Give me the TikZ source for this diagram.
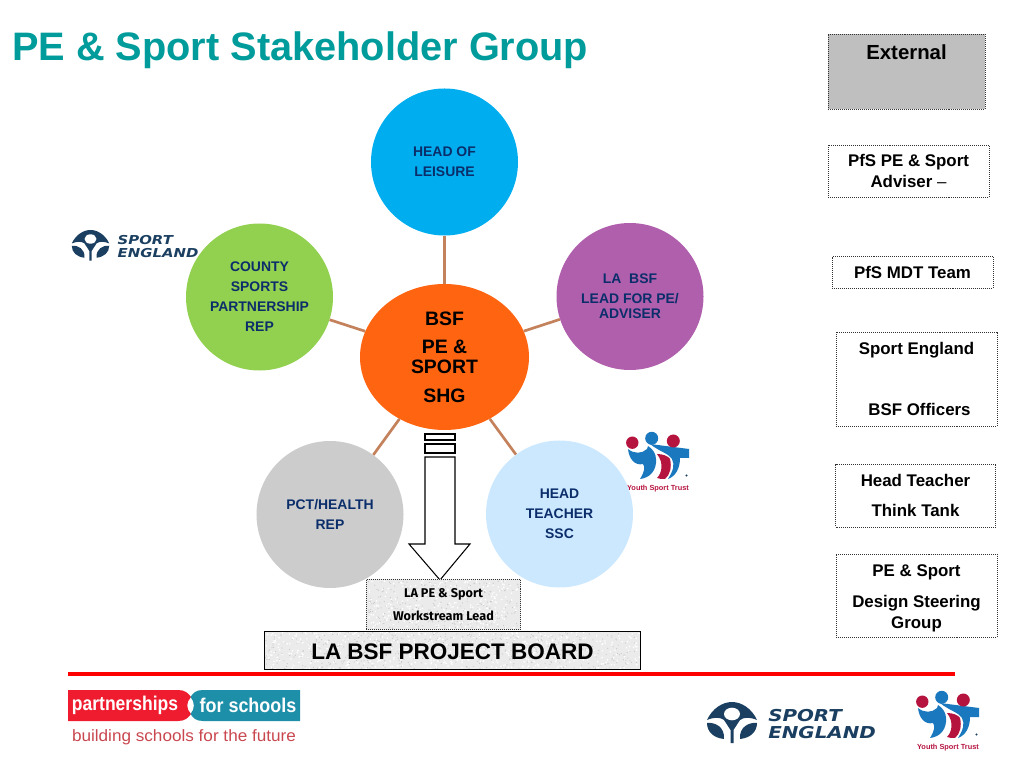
\documentclass[tikz,border=0pt]{standalone}
\usepackage{fontspec}
\setmainfont{Liberation Sans}
\newfontfamily\leadfont{Fira Sans}
\newfontfamily\logofont{DejaVu Sans}
\usetikzlibrary{shapes.geometric}
\definecolor{titleteal}{HTML}{009B9B}
\definecolor{labelnavy}{HTML}{0B2E6B}
\definecolor{spokebrown}{HTML}{C4825C}
\definecolor{logonavy}{HTML}{1B3F60}
\definecolor{logocrimson}{HTML}{B5143F}
\definecolor{logoblue}{HTML}{1A78BE}
\definecolor{pfsred}{HTML}{EE1C2E}
\definecolor{pfsteal}{HTML}{1E8FA8}
\definecolor{pfstag}{HTML}{C9474F}
\definecolor{hubfill}{HTML}{FF6411}
\definecolor{leisurefill}{HTML}{00AEEF}
\definecolor{countyfill}{HTML}{92D050}
\definecolor{leadfill}{HTML}{B05FAC}
\definecolor{healthfill}{HTML}{CCCCCC}
\definecolor{teacherfill}{HTML}{CCE8FF}
\tikzset{
  member/.style={circle,minimum size=4.41cm,inner sep=0pt,text=labelnavy,align=center,font=\fontsize{11.9}{17}\selectfont\bfseries},
  spoke/.style={draw=spokebrown,line width=2.3pt},
  sidebox/.style={draw=black!80,densely dotted,line width=0.7pt,align=center,inner sep=0pt,font=\fontsize{14.4}{17.5}\selectfont\bfseries},
  stonefill/.style n args={3}{fill=black!8,path picture={
    \pgfmathsetseed{#3}
    \foreach \i in {1,...,#3} {
      \fill[white] ([shift={(rand*#1,rand*#2)}]path picture bounding box.center) circle (0.9);
      \fill[black!22] ([shift={(rand*#1,rand*#2)}]path picture bounding box.center) circle (0.6);
    }}},
  sportlogo/.pic={
    \fill[logonavy] (-25,-4) .. controls (-20,-15) and (-10,-22) .. (0,-22) .. controls (10,-22) and (20,-15) .. (25,-4) .. controls (18,-7) and (12,-7) .. (8,-4) -- (1.5,6) -- (1.5,19) -- (-1.5,19) -- (-1.5,6) -- (-8,-4) .. controls (-12,-7) and (-18,-7) .. (-25,-4) -- cycle;
    \fill[white] (0,-10) ellipse (8 and 6.3);
    \fill[logonavy] (-25,-1) .. controls (-17,-2) and (-7,3) .. (-8,15) .. controls (-18,14) and (-25,8) .. (-25,-1) -- cycle;
    \fill[logonavy] (25,-1) .. controls (17,-2) and (7,3) .. (8,15) .. controls (18,14) and (25,8) .. (25,-1) -- cycle;
    \node[text=logonavy,font=\logofont\fontsize{14}{15.2}\selectfont\bfseries\itshape,align=left,inner sep=0pt,anchor=west,xscale=1.21,transform shape] at (36,0) {SPORT\\ENGLAND};
  },
  trustlogo/.pic={
    \fill[logoblue] (918,708) .. controls (924,713) and (932,713) .. (937,708) -- (938,705) .. controls (943,708) and (946,713) .. (946,718) .. controls (947,729) and (940,737) .. (930,738) .. controls (935,730) and (935,726) .. (933,723) .. controls (925,725) and (919,718) .. (918,708) -- cycle;
    \fill[logoblue] (940,703) -- (979,708) -- (979,717) -- (970,717) .. controls (970,727) and (966,735) .. (958,738) .. controls (963,730) and (965,724) .. (962,718) .. controls (958,712) and (950,711) .. (940,703) -- cycle;
    \fill[logocrimson] (947,713) .. controls (953,713) and (958,715) .. (960,718) .. controls (962,726) and (960,734) .. (955,738) .. controls (952,738) and (949,738) .. (947,737) .. controls (952,732) and (954,722) .. (947,713) -- cycle;
    \fill[logocrimson] (922.3,701.7) circle (6.2);
    \fill[logoblue] (941.7,697.3) circle (6.5);
    \fill[logocrimson] (963.3,700) circle (6.5);
    \fill[logonavy] (976.5,734.5) circle (1.1);
    \node[text=logocrimson,font=\fontsize{6.3}{8}\selectfont\bfseries,inner sep=0pt] at (948,747.5) {Youth Sport Trust};
  }
}
\begin{document}
\begin{tikzpicture}[x=0.03cm,y=-0.03cm]
  \useasboundingbox (0,0) rectangle (1024,768);
  \node[text=titleteal,anchor=west,inner sep=0pt,font=\fontsize{33.9}{36}\selectfont\bfseries] (title) at (12,50.5) {PE \& Sport Stakeholder Group};

  % logos sitting behind the circles
  \pic at (732,724) {sportlogo};
  \pic[scale=0.75,transform shape] at (90.5,246.5) {sportlogo};
  \pic[shift={(-290,-259)}] at (0,0) {trustlogo};
  \pic at (0,0) {trustlogo};

  % hub and members
  \node[ellipse,fill=hubfill,minimum width=5.07cm,minimum height=4.38cm,inner sep=0pt,align=center,font=\fontsize{16.6}{17}\selectfont\bfseries] (hub) at (444.5,357) {BSF\\[7pt]PE \&\\SPORT\\[7.5pt]SHG};
  \node[member,fill=leisurefill] (leisure) at (444.5,162) {HEAD OF\\LEISURE};
  \node[member,fill=countyfill] (county) at (259.5,297) {COUNTY\\SPORTS\\PARTNERSHIP\\REP};
  \node[member,fill=healthfill] (health) at (330,514.5) {PCT/HEALTH\\REP};
  \node[member,fill=teacherfill] (teacher) at (559.5,514) {HEAD\\TEACHER\\SSC};
  \node[member,fill=leadfill] (lead) at (630,296.5) {LA \ BSF\\LEAD FOR PE/\\[-4pt]ADVISER};
  \foreach \m in {leisure,county,health,teacher,lead} \draw[spoke] (hub) -- (\m);

  % arrow down to the board
  \draw[black,line width=0.9pt] (425,434) rectangle (455,440);
  \draw[black,line width=0.9pt] (425,444) rectangle (455,453);
  \draw[black,line width=0.9pt,fill=white] (425,457) -- (455,457) -- (455,544) -- (470,544) -- (440,580) -- (409,544) -- (425,544) -- cycle;

  \node[draw=black!80,densely dotted,line width=0.7pt,stonefill={75}{24}{260},minimum width=4.62cm,minimum height=1.5cm,inner sep=0pt,align=center,font=\leadfont\fontsize{10.8}{19.6}\selectfont\bfseries] (wslead) at (443.5,604.5) {LA PE \& Sport\\Workstream Lead};
  \node[draw=black,line width=0.7pt,stonefill={187}{19}{520},minimum width=11.28cm,minimum height=1.14cm,text height=0.51cm,text depth=0pt,inner sep=0pt,font=\fontsize{19.2}{22}\selectfont\bfseries] (board) at (452.5,650.5) {LA BSF PROJECT BOARD};

  % side column
  \node[sidebox,fill=black!25,minimum width=4.71cm,minimum height=2.25cm,text depth=1.15cm,font=\fontsize{17.4}{18}\selectfont\bfseries] (external) at (906.5,71.5) {External};
  \node[sidebox,minimum width=4.83cm,minimum height=1.56cm] (adviser) at (908.5,171) {PfS PE \& Sport\\Adviser {\mdseries --}};
  \node[sidebox,minimum width=4.83cm,minimum height=0.96cm] (mdt) at (912.5,272) {PfS MDT Team};
  \node[sidebox,minimum width=4.83cm,minimum height=2.82cm] (officers) at (916.5,379) {Sport England\\[8.5pt]\\[8.5pt]\hspace*{0.18cm}BSF Officers};
  \node[sidebox,minimum width=4.8cm,minimum height=1.89cm] (thinktank) at (915.5,495.5) {Head Teacher\\[8.5pt]Think Tank};
  \node[sidebox,minimum width=4.83cm,minimum height=2.49cm] (steering) at (916.5,595.5) {\rule{0pt}{14.8pt}PE \& Sport\\[9pt]Design Steering\\Group};

  % footer
  \draw[red,line width=3.4pt] (68,674) -- (955,674);
  \fill[pfsred] (68,690) -- (178,690) .. controls (185,690) and (188,693) .. (191,697) .. controls (186,702) and (186,709) .. (191,714) .. controls (188,718) and (185,721) .. (178,721) -- (68,721) -- cycle;
  \fill[pfsteal] (300,690) -- (203,690) .. controls (196,690) and (193,693) .. (190.5,697) .. controls (195,702) and (195,709) .. (190.5,714) .. controls (193,718) and (196,721) .. (203,721) -- (300,721) -- cycle;
  \node[text=white,font=\fontsize{17}{18}\selectfont\bfseries,xscale=0.88,inner sep=0pt] (pfsleft) at (125,705.5) {partnerships};
  \node[text=white,font=\fontsize{17}{18}\selectfont\bfseries,xscale=0.9,inner sep=0pt] (pfsright) at (248,705.5) {for schools};
  \node[text=pfstag,font=\fontsize{14}{15}\selectfont,xscale=1.045,inner sep=0pt] (pfstagline) at (184,737) {building schools for the future};
\end{tikzpicture}
\end{document}
